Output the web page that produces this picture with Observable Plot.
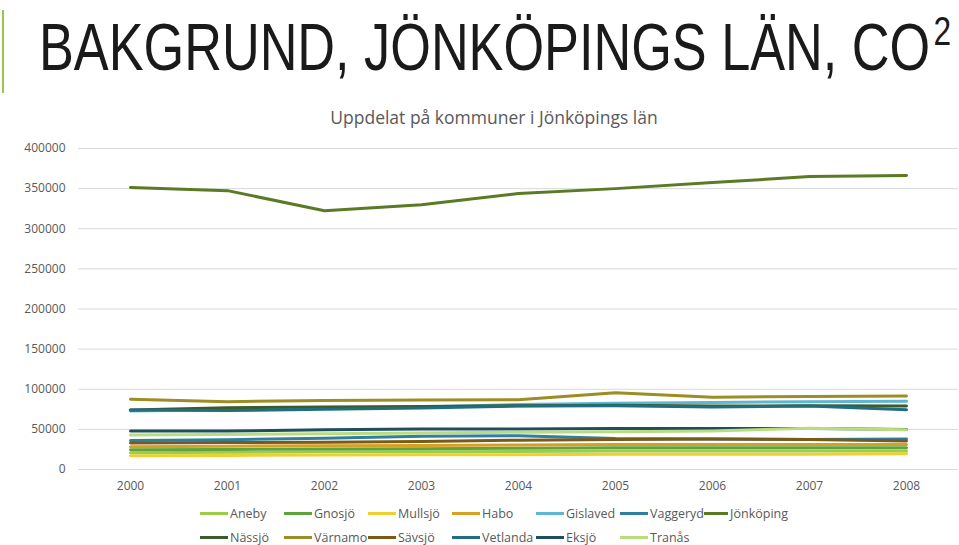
<!DOCTYPE html>
<html><head><meta charset="utf-8">
<script src="https://cdn.jsdelivr.net/npm/d3@7"></script>
<script src="https://cdn.jsdelivr.net/npm/@observablehq/plot@0.6"></script>
<style>
body{margin:0;background:#fff;width:959px;height:545px;overflow:hidden;position:relative;font-family:"Open Sans",sans-serif}
#bar{position:absolute;left:2px;top:10px;width:2px;height:83px;background:#9bc44a}
#title{position:absolute;left:39px;top:14px;font-family:"Liberation Sans",Arial,sans-serif;font-size:66px;color:#1a1a1a;white-space:nowrap;line-height:1;transform-origin:0 0;display:inline-block}
#title sup{font-size:40px;vertical-align:top;position:relative;top:-3px;margin-left:4px}
#subtitle{position:absolute;top:105px;left:0;width:988px;text-align:center;font-size:17.5px;color:#595959}
#chart{position:absolute;left:0;top:130px}
#legend{position:absolute;left:200px;top:501px;width:600px;display:flex;flex-wrap:wrap}
.item{width:84px;height:24px;display:flex;align-items:center;font-size:12.5px;color:#595959}
.sw{width:28px;height:3px;margin-right:2px}
</style>
</head><body>
<div id="bar"></div>
<div id="title">BAKGRUND, JÖNKÖPINGS LÄN, CO<sup>2</sup></div>
<div id="subtitle">Uppdelat på kommuner i Jönköpings län</div>
<div id="chart"></div>
<div id="legend"></div>
<script>
const years = ["2000","2001","2002","2003","2004","2005","2006","2007","2008"];
const yTicks = [0,50000,100000,150000,200000,250000,300000,350000,400000];
const names = ["Aneby","Gnosjö","Mullsjö","Habo","Gislaved","Vaggeryd","Jönköping","Nässjö","Värnamo","Sävsjö","Vetlanda","Eksjö","Tranås"];
const colors = ["#9ccc4a","#5ea33c","#f0d030","#d6a024","#5fb6d3","#2f7fa3","#5b7a24","#3c5a2a","#9c8d24","#7a5a14","#1f6f80","#1f4f5e","#b9dc7f"];

const aneby     = [21000,21500,22000,22000,22500,23000,23000,23000,23000];
const gnosjo    = [24500,25000,25500,26000,26500,27000,27000,27000,27000];
const mullsjo   = [17000,17500,18000,18500,18500,19000,19000,19000,19500];
const habo      = [28500,29000,29500,30000,30500,31000,31000,31000,31000];
const gislaved  = [73000,74500,76500,78000,81000,82500,83500,84500,85000];
const vaggeryd  = [36000,37000,39000,41500,42000,38500,38000,37500,38000];
const jonkoping = [351500,347500,322500,330000,344000,350000,357500,365000,366500];
const nassjo    = [74000,77000,78000,78500,79500,80000,79000,79500,79000];
const varnamo   = [87500,84500,86000,86500,87000,95500,90000,91000,91500];
const savsjo    = [33000,33500,34000,35000,36500,37500,38000,37500,35500];
const vetlanda  = [74000,73500,75000,76500,79000,79500,78000,79000,74500];
const eksjo     = [48000,48000,49500,50500,50500,51000,51000,51000,50000];
const tranas    = [43000,43500,44500,45500,46500,47000,48000,51500,49500];

const series = [aneby,gnosjo,mullsjo,habo,gislaved,vaggeryd,jonkoping,nassjo,varnamo,savsjo,vetlanda,eksjo,tranas];
const table = [];
series.forEach((vals,i)=>vals.forEach((v,j)=>table.push({name:names[i],year:years[j],value:v})));

const chart = Plot.plot({
  width:959, height:369,
  marginTop:18, marginBottom:30, marginLeft:78, marginRight:1,
  style:{fontFamily:"Open Sans, sans-serif", fontSize:"12px", color:"#595959", background:"transparent"},
  x:{type:"point", domain:years, padding:0.5, label:null},
  y:{domain:[0,400000], ticks:yTicks, label:null},
  color:{domain:names, range:colors},
  marks:[
    Plot.gridY(yTicks,{stroke:"#d9d9d9", strokeOpacity:1}),
    Plot.axisY({ticks:yTicks, tickSize:0, tickPadding:13, tickFormat:d3.format("d"), fill:"#595959", label:null}),
    Plot.axisX({tickSize:0, tickPadding:12, fill:"#595959", label:null}),
    Plot.line(table,{x:"year", y:"value", z:"name", stroke:"name", strokeWidth:3, curve:"linear"})
  ]
});
document.getElementById("chart").appendChild(chart);

const title = document.getElementById("title");
const tw = title.getBoundingClientRect().width;
title.style.transform = `scaleX(${912/tw})`;

const leg = document.getElementById("legend");
names.forEach((n,i)=>{
  const it=document.createElement("div"); it.className="item";
  const sw=document.createElement("span"); sw.className="sw"; sw.style.background=colors[i];
  const tx=document.createElement("span"); tx.textContent=n;
  it.appendChild(sw); it.appendChild(tx); leg.appendChild(it);
  if(i===6){const br=document.createElement("div"); br.style.width="100%"; br.style.height="0"; leg.appendChild(br);}
});
</script>
</body></html>
